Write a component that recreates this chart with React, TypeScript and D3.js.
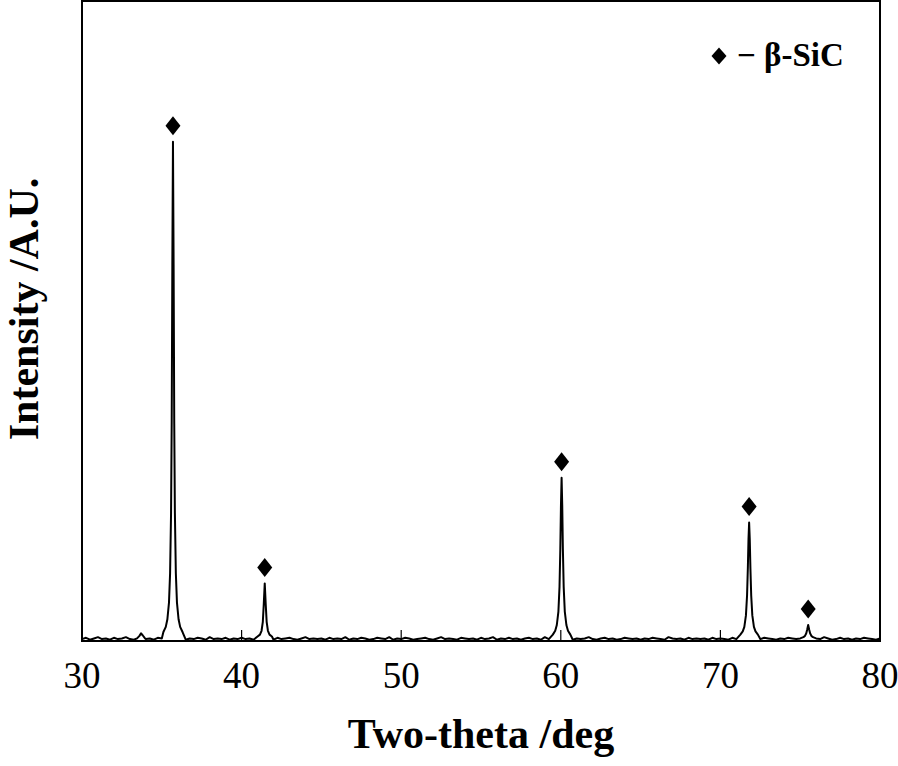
import React from "react";
import * as d3 from "d3";

// XRD scan: 30-80 deg, background sampled every 0.25 deg
const scanStart = 30;
const scanStep = 0.25;
const background = [
  3, 5, 2, 4, 6, 3, 4, 2, 5, 3, 4, 6, 3, 2, 4, 5, 3, 4, 2, 5,
  4, 3, 6, 4, 3, 5, 2, 4, 3, 5, 4, 2, 6, 3, 4, 3, 5, 2, 4, 3,
  5, 3, 4, 2, 4, 6, 3, 4, 2, 5, 3, 4, 5, 3, 2, 4, 6, 3, 4, 3,
  4, 2, 5, 3, 4, 3, 6, 2, 4, 3, 5, 4, 2, 3, 5, 4, 3, 6, 2, 4,
  3, 5, 4, 2, 3, 4, 5, 3, 2, 4, 6, 3, 4, 3, 2, 5, 4, 3, 4, 2,
  5, 3, 4, 6, 2, 4, 3, 5, 3, 4, 2, 4, 5, 3, 4, 2, 6, 3, 4, 3,
  4, 3, 5, 2, 4, 3, 4, 6, 3, 2, 4, 5, 3, 4, 2, 3, 5, 4, 3, 4,
  2, 4, 3, 5, 4, 3, 2, 6, 4, 3, 4, 2, 5, 3, 4, 3, 4, 2, 5, 3,
  4, 3, 2, 5, 3, 4, 6, 3, 4, 2, 3, 5, 4, 3, 2, 4, 3, 5, 4, 3,
  4, 2, 3, 5, 4, 3, 6, 4, 2, 3, 5, 3, 4, 2, 4, 3, 5, 4, 3, 2,
  4,
];

// peak profiles [2theta, intensity]
const bump337 = [[33.45, 4], [33.6, 8], [33.7, 12], [33.8, 9], [33.95, 4]];
const peak357 = [
  [35.1, 14], [35.25, 22], [35.35, 34], [35.45, 60], [35.52, 106], [35.58, 200],
  [35.62, 340], [35.66, 588], [35.7, 780], [35.74, 588], [35.78, 340], [35.82, 200],
  [35.88, 106], [35.95, 60], [36.05, 34], [36.15, 22], [36.3, 14],
];
const peak414 = [
  [41.0, 7], [41.15, 10], [41.25, 16], [41.33, 30], [41.39, 58], [41.45, 90],
  [41.51, 58], [41.57, 30], [41.65, 16], [41.75, 10], [41.9, 7],
];
const peak600 = [
  [59.5, 10], [59.65, 16], [59.75, 25], [59.85, 46], [59.92, 85], [59.97, 144],
  [60.01, 212], [60.05, 255], [60.09, 212], [60.13, 144], [60.18, 85], [60.25, 46],
  [60.35, 25], [60.45, 16], [60.6, 10],
];
const peak718 = [
  [71.25, 10], [71.4, 15], [71.5, 22], [71.6, 40], [71.67, 71], [71.72, 114],
  [71.76, 159], [71.8, 185], [71.84, 159], [71.88, 114], [71.93, 71], [72.0, 40],
  [72.1, 22], [72.2, 15], [72.35, 10],
];
const peak755 = [
  [75.2, 6], [75.3, 8], [75.38, 12], [75.44, 18], [75.5, 25], [75.56, 18],
  [75.62, 12], [75.7, 8], [75.8, 6],
];

const sicPeaks = [35.7, 41.45, 60.05, 71.8, 75.5];
const xTicks = [30, 40, 50, 60, 70, 80];

const W = 898;
const H = 766;
const left = 82;
const right = 880;
const top = 1;
const bottom = 641;

export default function App() {
  const peaks = [bump337, peak357, peak414, peak600, peak718, peak755];

  // merge background with peak profiles (drop background inside peak windows)
  const pts: number[][] = [];
  background.forEach((v, i) => {
    const t = scanStart + i * scanStep;
    const inside = peaks.some((p) => t >= p[0][0] && t <= p[p.length - 1][0]);
    if (!inside) pts.push([t, v]);
  });
  peaks.forEach((p) => p.forEach((d) => pts.push(d)));
  pts.sort((a, b) => a[0] - b[0]);

  const x = d3.scaleLinear().domain([30, 80]).range([left, right]);
  const y = d3.scaleLinear().domain([0, 1000]).range([bottom, top]);

  const line = d3
    .line<number[]>()
    .x((d) => x(d[0]))
    .y((d) => y(d[1]));

  const diamond = (cx: number, cy: number, hw: number, hh: number) =>
    `M${cx},${cy - hh}L${cx + hw},${cy}L${cx},${cy + hh}L${cx - hw},${cy}Z`;

  const serif = "'Liberation Serif', 'Times New Roman', serif";

  return (
    <svg
      width={W}
      height={H}
      style={{ position: "absolute", left: 0, top: 0, background: "#fff" }}
    >
      {xTicks.slice(1, -1).map((t) => (
        <line key={t} x1={x(t)} x2={x(t)} y1={bottom} y2={bottom - 11} stroke="#000" strokeWidth={1.2} />
      ))}
      <path d={line(pts) || ""} fill="none" stroke="#000" strokeWidth={2} strokeLinejoin="round" />
      {sicPeaks.map((t) => {
        const near = pts.filter((d) => Math.abs(d[0] - t) < 0.05);
        const topVal = d3.max(near, (d) => d[1]) || 0;
        return <path key={t} d={diamond(x(t), y(topVal) - 16, 7.5, 9.5)} fill="#000" />;
      })}
      <rect
        x={left}
        y={top}
        width={right - left}
        height={bottom - top}
        fill="none"
        stroke="#000"
        strokeWidth={2}
      />
      {xTicks.map((t) => (
        <text key={t} x={x(t)} y={688} textAnchor="middle" fontFamily={serif} fontSize={37}>
          {t}
        </text>
      ))}
      <text x={(left + right) / 2} y={748} textAnchor="middle" fontFamily={serif} fontSize={42} fontWeight="bold">
        Two-theta /deg
      </text>
      <text
        transform={`translate(38,${309}) rotate(-90)`}
        textAnchor="middle"
        fontFamily={serif}
        fontSize={42}
        fontWeight="bold"
      >
        Intensity /A.U.
      </text>
      <path d={diamond(719, 56, 7.5, 8.5)} fill="#000" />
      <text x={737} y={66} fontFamily={serif} fontSize={33} fontWeight="bold">
        − β-SiC
      </text>
    </svg>
  );
}
